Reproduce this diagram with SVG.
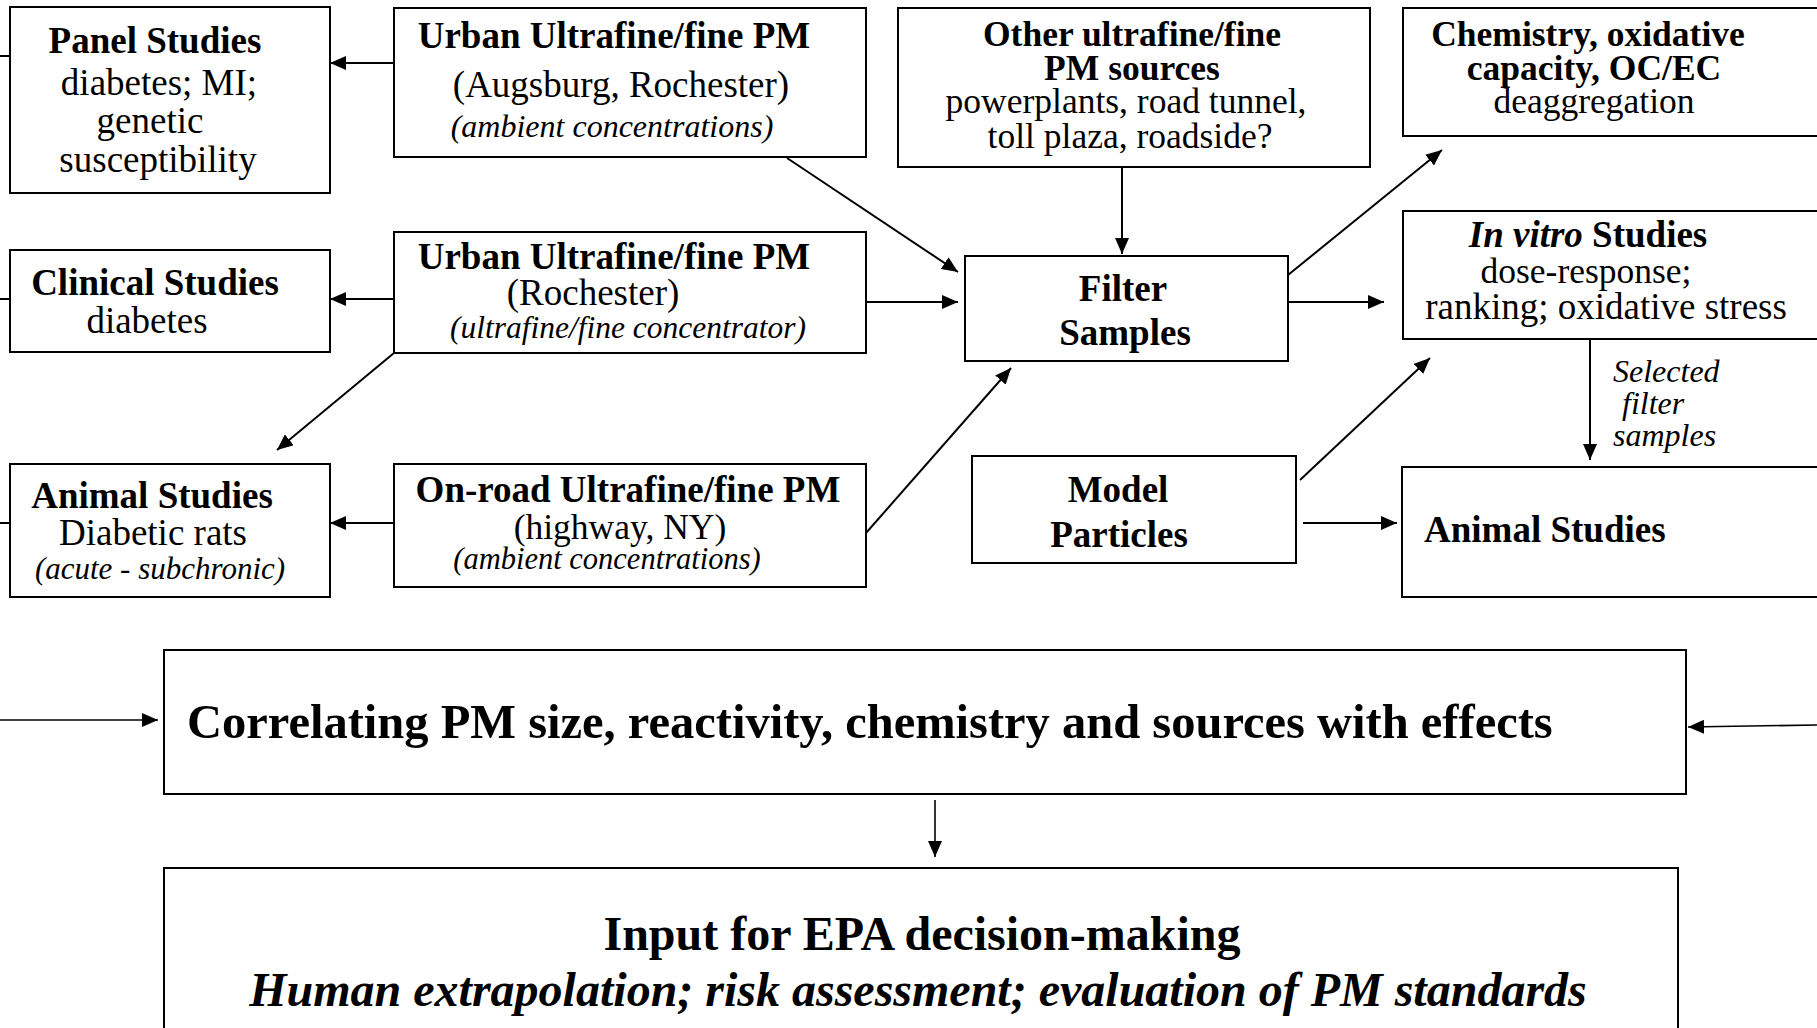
<svg xmlns="http://www.w3.org/2000/svg" width="1817" height="1028" viewBox="0 0 1817 1028">
<defs>
<marker id="ah" markerUnits="userSpaceOnUse" markerWidth="16" markerHeight="14" refX="16" refY="7" orient="auto">
<path d="M0,0 L16,7 L0,14 z" fill="#000"/>
</marker>
<style>
text{font-family:"Liberation Serif","Times New Roman",serif;fill:#000}
.b{font-weight:bold;font-size:37px}
.r{font-size:37px}
.i{font-style:italic;font-size:32px}
.t{font-size:35.5px}
.box{fill:#fff;stroke:#000;stroke-width:2}
.c{stroke:#000;stroke-width:2;fill:none}
.a{marker-end:url(#ah)}
.m{text-anchor:middle}
</style>
</defs>
<rect width="1817" height="1028" fill="#fff"/>
<g id="connectors">
<line class="c" x1="0" y1="56" x2="10" y2="56"/>
<line class="c" x1="0" y1="299" x2="10" y2="299"/>
<line class="c" x1="0" y1="523" x2="10" y2="523"/>
<line class="c a" x1="394" y1="63" x2="330" y2="63"/>
<line class="c a" x1="394" y1="299" x2="330" y2="299"/>
<line class="c a" x1="394" y1="523" x2="330" y2="523"/>
<line class="c a" x1="394" y1="353" x2="277" y2="450"/>
<line class="c a" x1="787" y1="158" x2="958" y2="272"/>
<line class="c a" x1="866" y1="302" x2="958" y2="302"/>
<line class="c a" x1="866" y1="533" x2="1011" y2="368"/>
<line class="c a" x1="1122" y1="167" x2="1122" y2="254"/>
<line class="c a" x1="1288" y1="275" x2="1442" y2="150"/>
<line class="c a" x1="1288" y1="302" x2="1384" y2="302"/>
<line class="c a" x1="1300" y1="480" x2="1430" y2="358"/>
<line class="c a" x1="1303" y1="523" x2="1397" y2="523"/>
<line class="c a" x1="1590" y1="340" x2="1590" y2="460"/>
<line class="c a" x1="0" y1="720" x2="158" y2="720" style="stroke-width:1.6"/>
<line class="c a" x1="1817" y1="725" x2="1688" y2="727" style="stroke-width:1.6"/>
<line class="c a" x1="935" y1="800" x2="935" y2="857" style="stroke-width:1.6"/>
</g>
<g id="panel">
<rect class="box" x="10" y="7" width="320" height="186"/>
<text class="b m" x="155" y="53">Panel Studies</text>
<text class="r m" x="159" y="95">diabetes; MI;</text>
<text class="r m" x="150" y="133">genetic</text>
<text class="r m" x="158" y="172">susceptibility</text>
</g>
<g id="clinical">
<rect class="box" x="10" y="250" width="320" height="102"/>
<text class="b m" x="155" y="295">Clinical Studies</text>
<text class="r m" x="147" y="333">diabetes</text>
</g>
<g id="animal-left">
<rect class="box" x="10" y="464" width="320" height="133"/>
<text class="b m" x="152" y="508">Animal Studies</text>
<text class="r m" x="153" y="545">Diabetic rats</text>
<text class="i m" x="160" y="579" style="font-size:31px">(acute - subchronic)</text>
</g>
<g id="urban1">
<rect class="box" x="394" y="8" width="472" height="149"/>
<text class="b m" x="614" y="48">Urban Ultrafine/fine PM</text>
<text class="r m" x="621" y="97">(Augsburg, Rochester)</text>
<text class="i m" x="612" y="137">(ambient concentrations)</text>
</g>
<g id="urban2">
<rect class="box" x="394" y="232" width="472" height="121"/>
<text class="b m" x="614" y="269">Urban Ultrafine/fine PM</text>
<text class="r m" x="593" y="305">(Rochester)</text>
<text class="i m" x="628" y="338" style="font-size:31.5px">(ultrafine/fine concentrator)</text>
</g>
<g id="onroad">
<rect class="box" x="394" y="464" width="472" height="123"/>
<text class="b m" x="628" y="502">On-road Ultrafine/fine PM</text>
<text class="r m t" x="620" y="539">(highway, NY)</text>
<text class="i m" x="607" y="569" style="font-size:30.5px">(ambient concentrations)</text>
</g>
<g id="other">
<rect class="box" x="898" y="8" width="472" height="159"/>
<text class="b m t" x="1132" y="46">Other ultrafine/fine</text>
<text class="b m t" x="1132" y="80">PM sources</text>
<text class="r m t" x="1126" y="113">powerplants, road tunnel,</text>
<text class="r m t" x="1130" y="148">toll plaza, roadside?</text>
</g>
<g id="filter">
<rect class="box" x="965" y="256" width="323" height="105"/>
<text class="b m" x="1123" y="301">Filter</text>
<text class="b m" x="1125" y="345">Samples</text>
</g>
<g id="model">
<rect class="box" x="972" y="456" width="324" height="107"/>
<text class="b m" x="1118" y="502">Model</text>
<text class="b m" x="1119" y="547">Particles</text>
</g>
<g id="chemistry">
<rect class="box" x="1403" y="8" width="440" height="128"/>
<text class="b m t" x="1588" y="46">Chemistry, oxidative</text>
<text class="b m t" x="1594" y="80">capacity, OC/EC</text>
<text class="r m t" x="1594" y="113">deaggregation</text>
</g>
<g id="invitro">
<rect class="box" x="1403" y="211" width="440" height="128"/>
<text class="b m" x="1588" y="247"><tspan font-style="italic">In vitro</tspan> Studies</text>
<text class="r m t" x="1586" y="283">dose-response;</text>
<text class="r m" x="1606" y="319">ranking; oxidative stress</text>
</g>
<g id="selected-label">
<text class="i" x="1613" y="382">Selected</text>
<text class="i" x="1622" y="414">filter</text>
<text class="i" x="1613" y="446">samples</text>
</g>
<g id="animal-right">
<rect class="box" x="1402" y="467" width="440" height="130"/>
<text class="b" x="1424" y="542">Animal Studies</text>
</g>
<g id="correlating">
<rect class="box" x="164" y="650" width="1522" height="144"/>
<text x="187" y="738" style="font-weight:bold;font-size:48.5px">Correlating PM size, reactivity, chemistry and sources with effects</text>
</g>
<g id="input">
<rect class="box" x="164" y="868" width="1514" height="200"/>
<text class="m" x="922" y="950" style="font-weight:bold;font-size:48px">Input for EPA decision-making</text>
<text class="m" x="918" y="1006" style="font-weight:bold;font-style:italic;font-size:48px">Human extrapolation; risk assessment; evaluation of PM standards</text>
</g>
</svg>
